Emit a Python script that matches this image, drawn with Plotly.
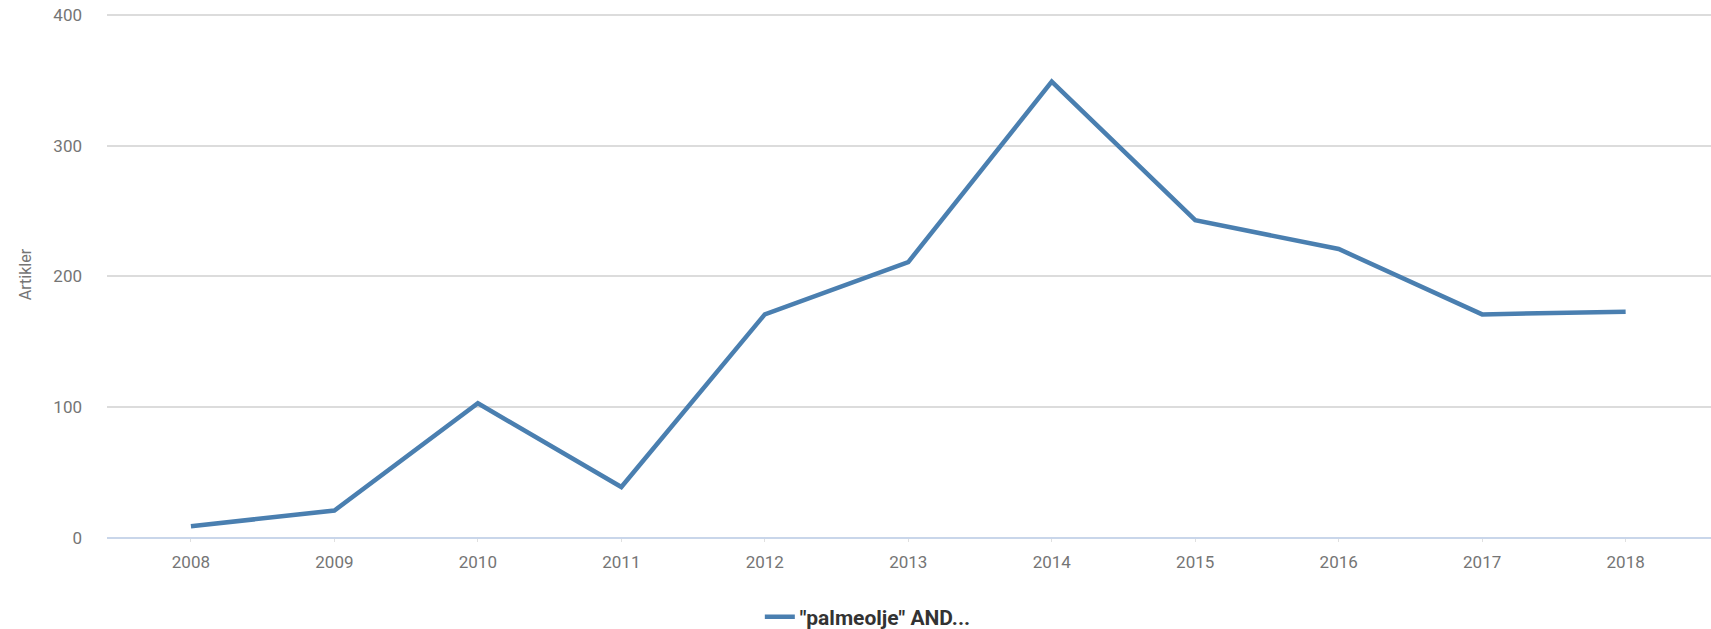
import plotly.graph_objects as go

years = [2008, 2009, 2010, 2011, 2012, 2013, 2014, 2015, 2016, 2017, 2018]
articles = [9, 21, 103, 39, 171, 211, 349, 243, 221, 171, 173]
series_name = '"palmeolje" AND...'
y_ticks = [0, 100, 200, 300, 400]

fig = go.Figure()
fig.add_trace(go.Scatter(
    x=years, y=articles, mode="lines", name=series_name,
    line=dict(color="#4a7fb0", width=4.5),
))

fig.update_layout(
    width=1711, height=629,
    margin=dict(l=107, r=0, t=11, b=91, autoexpand=False),
    paper_bgcolor="white", plot_bgcolor="white",
    font=dict(family="Roboto", color="#757575", size=17),
    showlegend=True,
    legend=dict(orientation="h", x=0.407, xanchor="left", y=-0.150, yanchor="middle",
                font=dict(family="Roboto", size=21, color="#333333", weight="bold")),
    xaxis=dict(
        range=[2007.415, 2018.595], tickmode="array", tickvals=years,
        ticktext=[str(y) for y in years],
        showgrid=False, zeroline=False, showline=False,
        ticks="outside", ticklen=3, tickcolor="#e0e0e0",
        ticklabelstandoff=6, automargin=False,
    ),
    yaxis=dict(
        range=[0, 403], tickvals=y_ticks,
        showgrid=True, gridcolor="#dcdcdc", gridwidth=1.5,
        zeroline=True, zerolinecolor="#c9d6ea", zerolinewidth=1.5,
        showline=False, ticklabelstandoff=24, automargin=False,
        title=dict(text="Artikler", font=dict(size=16, color="#757575"), standoff=17),
    ),
)

fig.write_html(
    "out.html",
    config={"displayModeBar": False},
    post_script="document.body.style.margin='0';document.body.style.overflow='hidden';",
)
